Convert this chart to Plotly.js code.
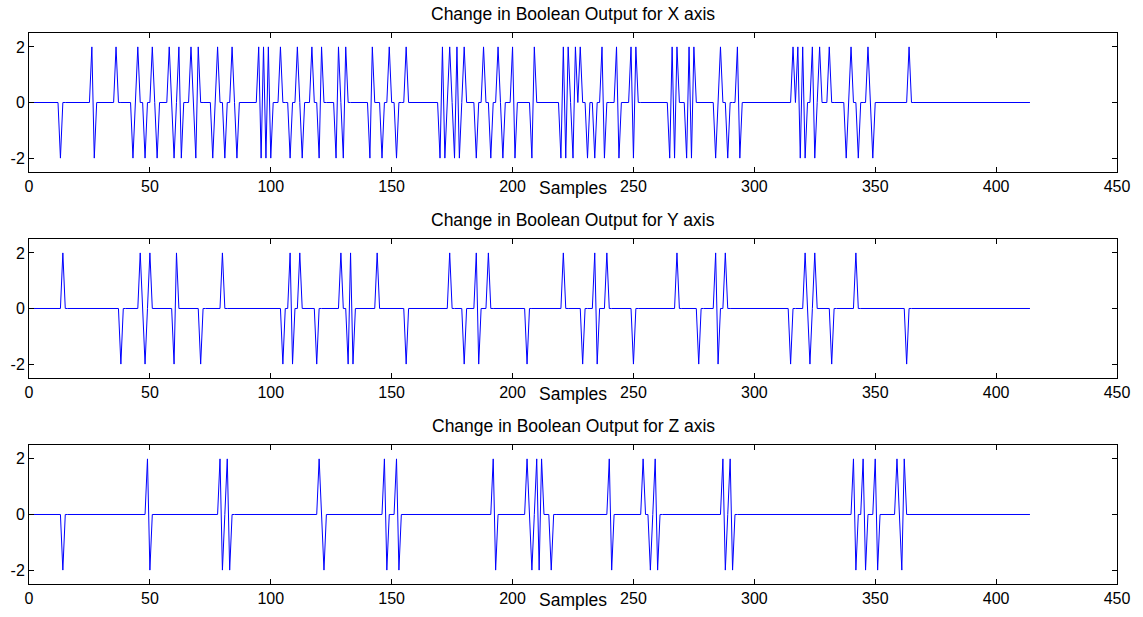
<!DOCTYPE html>
<html>
<head>
<meta charset="utf-8">
<script src="https://cdn.plot.ly/plotly-3.0.1.min.js"></script>
<style>
html,body{margin:0;padding:0;background:#fff;}
#chart{width:1143px;height:617px;}
</style>
</head>
<body>
<div id="chart"></div>
<script>
// Number of samples
const N = 414;
const xTickVals = [0, 50, 100, 150, 200, 250, 300, 350, 400, 450];
const yTickVals = [-2, 0, 2];
const yTickText = ['-2', '0', '2'];
const titles = ['Change in Boolean Output for X axis', 'Change in Boolean Output for Y axis', 'Change in Boolean Output for Z axis'];
const xLabel = 'Samples';

// Sample indices where the change is +2 / -2
const xUp = [26, 36, 45, 51, 58, 62, 67, 70, 78, 84, 95, 97, 99, 104, 111, 117, 121, 128, 131, 142, 149, 156, 171, 174, 177, 180, 188, 194, 200, 209, 221, 223, 226, 228, 237, 243, 249, 251, 266, 268, 273, 275, 286, 293, 316, 318, 320, 324, 327, 331, 340, 347, 364];
const xDown = [13, 27, 43, 48, 53, 60, 63, 69, 76, 81, 86, 96, 98, 100, 108, 113, 120, 127, 130, 141, 146, 152, 170, 172, 176, 178, 185, 191, 196, 201, 208, 220, 222, 225, 231, 234, 238, 244, 250, 265, 267, 272, 274, 284, 289, 294, 319, 321, 325, 338, 343, 349];

const yUp = [14, 46, 50, 61, 80, 108, 112, 129, 133, 144, 174, 185, 190, 221, 234, 239, 268, 284, 288, 321, 325, 342];
const yDown = [38, 48, 60, 71, 105, 109, 119, 132, 134, 156, 180, 186, 206, 229, 235, 250, 277, 285, 315, 323, 332, 363];

const zUp = [49, 79, 82, 120, 147, 152, 192, 206, 210, 212, 240, 254, 259, 287, 290, 341, 345, 350, 359, 362];
const zDown = [14, 50, 80, 83, 122, 148, 153, 193, 208, 211, 216, 241, 257, 260, 288, 291, 342, 346, 351, 361];

function buildSeries(up, down) {
  const v = new Array(N).fill(0);
  up.forEach(i => { v[i - 1] = 2; });
  down.forEach(i => { v[i - 1] = -2; });
  return v;
}
const samples = Array.from({length: N}, (_, i) => i + 1);
const seriesList = [buildSeries(xUp, xDown), buildSeries(yUp, yDown), buildSeries(zUp, zDown)];

const font = 'Liberation Sans, Arial, sans-serif';
const domains = [[0.7477, 1], [0.3739, 0.6261], [0, 0.2523]];

const traces = seriesList.map((s, k) => ({
  x: samples, y: s, type: 'scatter', mode: 'lines',
  line: {color: '#0000ff', width: 1},
  xaxis: k === 0 ? 'x' : 'x' + (k + 1),
  yaxis: k === 0 ? 'y' : 'y' + (k + 1),
  hoverinfo: 'skip', showlegend: false
}));

const layout = {
  width: 1143, height: 617,
  margin: {l: 29, r: 26, t: 33, b: 33},
  paper_bgcolor: '#fff', plot_bgcolor: '#fff',
  font: {family: font, size: 16, color: '#000'},
  showlegend: false,
  annotations: []
};

domains.forEach((d, k) => {
  const sx = k === 0 ? '' : String(k + 1);
  layout['xaxis' + sx] = {
    domain: [0, 1], anchor: 'y' + sx, range: [0, 450],
    tickvals: xTickVals, ticktext: xTickVals.map(String),
    ticks: 'inside', ticklen: 5, tickcolor: '#000', tickwidth: 1,
    showline: true, linecolor: '#000', linewidth: 1, mirror: 'ticks',
    showgrid: false, zeroline: false, automargin: false,
    tickfont: {family: font, size: 16, color: '#000'}
  };
  layout['yaxis' + sx] = {
    domain: d, anchor: 'x' + sx, range: [-2.5, 2.5],
    tickvals: yTickVals, ticktext: yTickText,
    ticks: 'inside', ticklen: 5, tickcolor: '#000', tickwidth: 1,
    showline: true, linecolor: '#000', linewidth: 1, mirror: 'ticks',
    showgrid: false, zeroline: false, automargin: false,
    tickfont: {family: font, size: 16, color: '#000'}
  };
  layout.annotations.push({
    text: titles[k], xref: 'paper', yref: 'paper', x: 0.5, y: d[1],
    xanchor: 'center', yanchor: 'bottom', yshift: 7, showarrow: false,
    font: {family: font, size: 17.5, color: '#000'}
  });
  layout.annotations.push({
    text: xLabel, xref: 'paper', yref: 'paper', x: 0.5, y: d[0],
    xanchor: 'center', yanchor: 'middle', yshift: -16, showarrow: false,
    font: {family: font, size: 17.5, color: '#000'}
  });
});

Plotly.newPlot('chart', traces, layout, {staticPlot: true, displayModeBar: false});
</script>
</body>
</html>
